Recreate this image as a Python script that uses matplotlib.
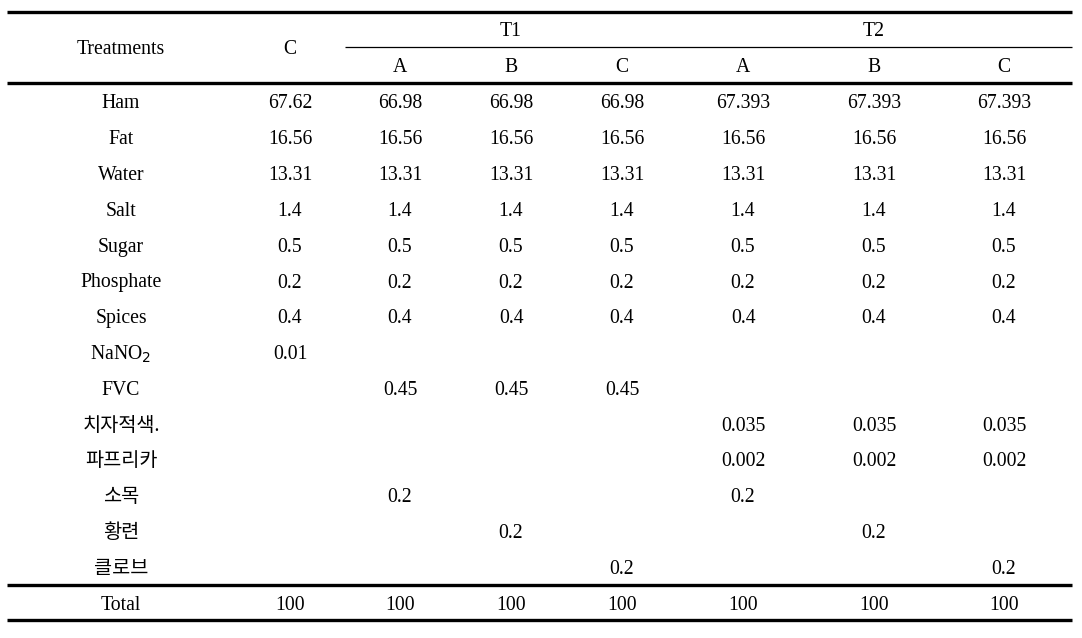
import matplotlib.pyplot as plt

# ---- data ----
ingredients = ["Ham", "Fat", "Water", "Salt", "Sugar", "Phosphate", "Spices",
               "NaNO$_2$", "FVC", "치자적색.", "파프리카", "소목", "황련", "클로브"]
groups = ["T1", "T2"]
sub_labels = ["A", "B", "C"]

control = ["67.62", "16.56", "13.31", "1.4", "0.5", "0.2", "0.4", "0.01",
           "", "", "", "", "", ""]
t1_a = ["66.98", "16.56", "13.31", "1.4", "0.5", "0.2", "0.4", "",
        "0.45", "", "", "0.2", "", ""]
t1_b = ["66.98", "16.56", "13.31", "1.4", "0.5", "0.2", "0.4", "",
        "0.45", "", "", "", "0.2", ""]
t1_c = ["66.98", "16.56", "13.31", "1.4", "0.5", "0.2", "0.4", "",
        "0.45", "", "", "", "", "0.2"]
t2_a = ["67.393", "16.56", "13.31", "1.4", "0.5", "0.2", "0.4", "",
        "", "0.035", "0.002", "0.2", "", ""]
t2_b = ["67.393", "16.56", "13.31", "1.4", "0.5", "0.2", "0.4", "",
        "", "0.035", "0.002", "", "0.2", ""]
t2_c = ["67.393", "16.56", "13.31", "1.4", "0.5", "0.2", "0.4", "",
        "", "0.035", "0.002", "", "", "0.2"]
totals = ["100"] * 7

columns = [control, t1_a, t1_b, t1_c, t2_a, t2_b, t2_c]

# ---- layout (pixel coordinates) ----
W, H = 1082, 638
col_x = [290, 400, 511, 622, 743, 874, 1004]
label_x = 121
row0_y = 104
row_step = 35.8
left, right = 7, 1072

fig = plt.figure(figsize=(W / 100, H / 100), dpi=100)
ax = fig.add_axes([0, 0, 1, 1])
ax.set_xlim(0, W)
ax.set_ylim(H, 0)
ax.axis("off")

fonts = ["Liberation Serif", "Noto Sans CJK KR", "DejaVu Sans"]
fs = 14.2
kw = dict(ha="center", va="center", fontsize=fs, family=fonts)

# rules
ax.plot([left, right], [12, 12], color="black", lw=2.4, solid_capstyle="butt")
ax.plot([345, right], [47, 47], color="black", lw=0.9, solid_capstyle="butt")
ax.plot([left, right], [83, 83], color="black", lw=2.4, solid_capstyle="butt")
ax.plot([left, right], [585, 585], color="black", lw=2.4, solid_capstyle="butt")
ax.plot([left, right], [620, 620], color="black", lw=2.4, solid_capstyle="butt")

# header
ax.text(label_x, 50, "Treatments", **kw)
ax.text(col_x[0], 50, "C", **kw)
ax.text(col_x[2], 32, groups[0], **kw)
ax.text(col_x[5], 32, groups[1], **kw)
for i, x in enumerate(col_x[1:]):
    ax.text(x, 68, sub_labels[i % 3], **kw)

# body
for r, name in enumerate(ingredients):
    y = row0_y + r * row_step
    ax.text(label_x, y, name, **kw)
    for c, col in enumerate(columns):
        if col[r]:
            ax.text(col_x[c], y, col[r], **kw)

# total row
ax.text(label_x, 605, "Total", **kw)
for c, v in enumerate(totals):
    ax.text(col_x[c], 605, v, **kw)

fig.savefig("out.png", dpi=100)
